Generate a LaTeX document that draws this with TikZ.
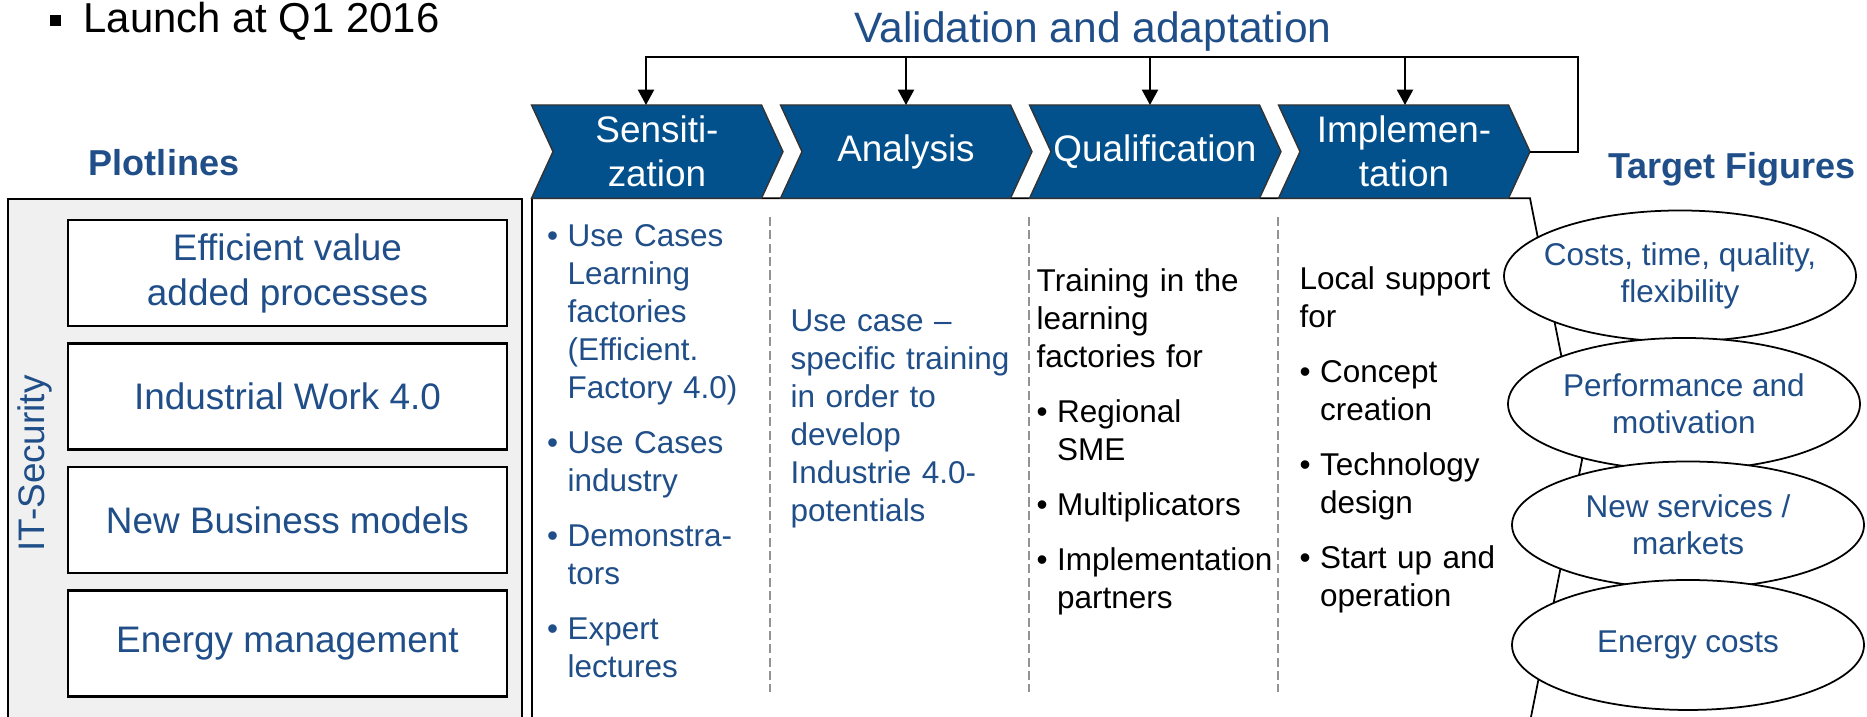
\documentclass[tikz,border=0pt]{standalone}
\usepackage{fontspec}
\setmainfont{Liberation Sans}
\usetikzlibrary{arrows.meta}

\definecolor{dblue}{HTML}{02508C}
\definecolor{tblue}{HTML}{1F4E88}
\definecolor{boxgray}{HTML}{F0F0F0}

% bullet and hanging indent for the column lists
\newcommand{\bul}{\makebox[0.205cm][l]{\textbullet}}
\newcommand{\ind}{\hspace*{0.205cm}}

\begin{document}
\begin{tikzpicture}[
	>={Triangle[length=4.4pt,width=4.6pt]},
	phase/.style = {draw=black!80, line width=0.4pt, fill=dblue},
	phasetext/.style = {text=white, align=center, inner sep=0, font=\fontsize{10.5}{12.6}\selectfont},
	plot/.style = {draw, line width=0.6pt, fill=white, minimum width=4.39cm, minimum height=1.06cm, text=tblue, align=center, font=\fontsize{10.5}{12.8}\selectfont},
	col/.style = {anchor=base west, text width=2.5cm, align=left, inner sep=0, font=\fontsize{8.96}{10.8}\selectfont},
	head/.style = {anchor=base, inner sep=0, text=tblue, font=\fontsize{10.25}{12}\selectfont\bfseries},
	target/.style = {draw, line width=0.5pt, fill=white},
	figtext/.style = {text=tblue, align=center, inner sep=0, font=\fontsize{8.96}{10.45}\selectfont},
	sep/.style = {draw=gray!85, line width=0.5pt, dash pattern=on 2.6pt off 1.2pt},
	feed/.style = {line width=0.6pt}
]
\useasboundingbox (0,0) rectangle (18.67,7.17);

% heading line
\fill (0.50,6.91) rectangle (0.61,7.02);
\node[anchor=base west, inner sep=0, font=\fontsize{11.9}{14}\selectfont] (launch) at (0.83,6.84) {Launch at Q1 2016};
\node[anchor=base, inner sep=0, text=tblue, font=\fontsize{12.1}{14}\selectfont] (valid) at (10.93,6.74) {Validation and adaptation};

% white panel below the phases
\draw[line width=0.5pt, fill=white] (5.32,5.187) -- (15.30,5.187) -- (15.82,2.57) -- (15.30,-0.05) -- (5.32,-0.05) -- cycle;
\foreach \x in {7.70, 10.29, 12.78}
	\draw[sep] (\x,5.00) -- (\x,0.25);

% phases
\foreach \x/\ax/\nm/\txt in {5.315/6.46/sens/{Sensiti-\\zation}, 7.805/9.06/anal/Analysis, 10.295/11.50/qual/Qualification, 12.785/14.05/impl/{Implemen-\\tation}}{
	\draw[phase] (\x,6.12) -- ++(2.30,0) -- ++(0.215,-0.4665) -- ++(-0.215,-0.4665) -- ++(-2.30,0) -- ++(0.215,0.4665) -- cycle;
	\node[phasetext] (\nm) at (\x+1.255,5.6535) {\txt};
	\coordinate (\nm-top) at (\ax,6.12);
}

% feedback loop
\coordinate (impl-tip) at (15.30,5.6535);
\coordinate (fb) at (15.78,6.60);
\draw[feed, ->] (impl-tip) -| (fb) -| (sens-top);
\foreach \nm in {anal, qual, impl}
	\draw[feed, ->] (\nm-top |- fb) -- (\nm-top);

% column texts
\node[col, text=tblue] (uses) at (5.465,4.70) {\bul Use Cases\\\ind Learning\\\ind factories\\\ind (Efficient.\\\ind Factory 4.0)\\[0.17cm]\bul Use Cases\\\ind industry\\[0.17cm]\bul Demonstra-\\\ind tors\\[0.17cm]\bul Expert\\\ind lectures};
\node[col, text=tblue] (train) at (7.90,3.85) {Use case --\\specific training\\in order to\\develop\\Industrie 4.0-\\potentials};
\node[col] (quals) at (10.36,4.25) {Training in the\\learning\\factories for\\[0.17cm]\bul Regional\\\ind SME\\[0.17cm]\bul Multiplicators\\[0.17cm]\bul Implementation\\\ind partners};
\node[col] (local) at (12.99,4.27) {Local support\\for\\[0.17cm]\bul Concept\\\ind creation\\[0.17cm]\bul Technology\\\ind design\\[0.17cm]\bul Start up and\\\ind operation};

% plotlines
\node[head] (plotl) at (1.64,5.41) {Plotlines};
\draw[line width=0.6pt, fill=boxgray] (0.08,5.18) rectangle (5.22,-0.05);
\node[plot] (eff) at (2.875,4.44) {Efficient value\\added processes};
\node[plot] (work) at (2.875,3.205) {Industrial Work 4.0};
\node[plot] (biz) at (2.875,1.97) {New Business models};
\node[plot] (energy) at (2.875,0.735) {Energy management};
\node[rotate=90, inner sep=0, text=tblue, font=\fontsize{10.5}{12}\selectfont] (itsec) at (0.35,2.535) {IT-Security};

% target figures
\node[head] (targ) at (17.32,5.38) {Target Figures};
\foreach \x/\y/\ry/\nm/\txt in {16.80/4.41/0.655/costs/{Costs, time, quality,\\flexibility}, 16.84/3.13/0.66/perf/{Performance and\\motivation}, 16.88/1.92/0.635/serv/{New services /\\markets}, 16.88/0.72/0.65/ecost/{Energy costs}}{
	\draw[target] (\x,\y) ellipse [x radius=1.76, y radius=\ry];
	\node[figtext] (\nm) at (\x,\y) {\txt};
}
\end{tikzpicture}
\end{document}
